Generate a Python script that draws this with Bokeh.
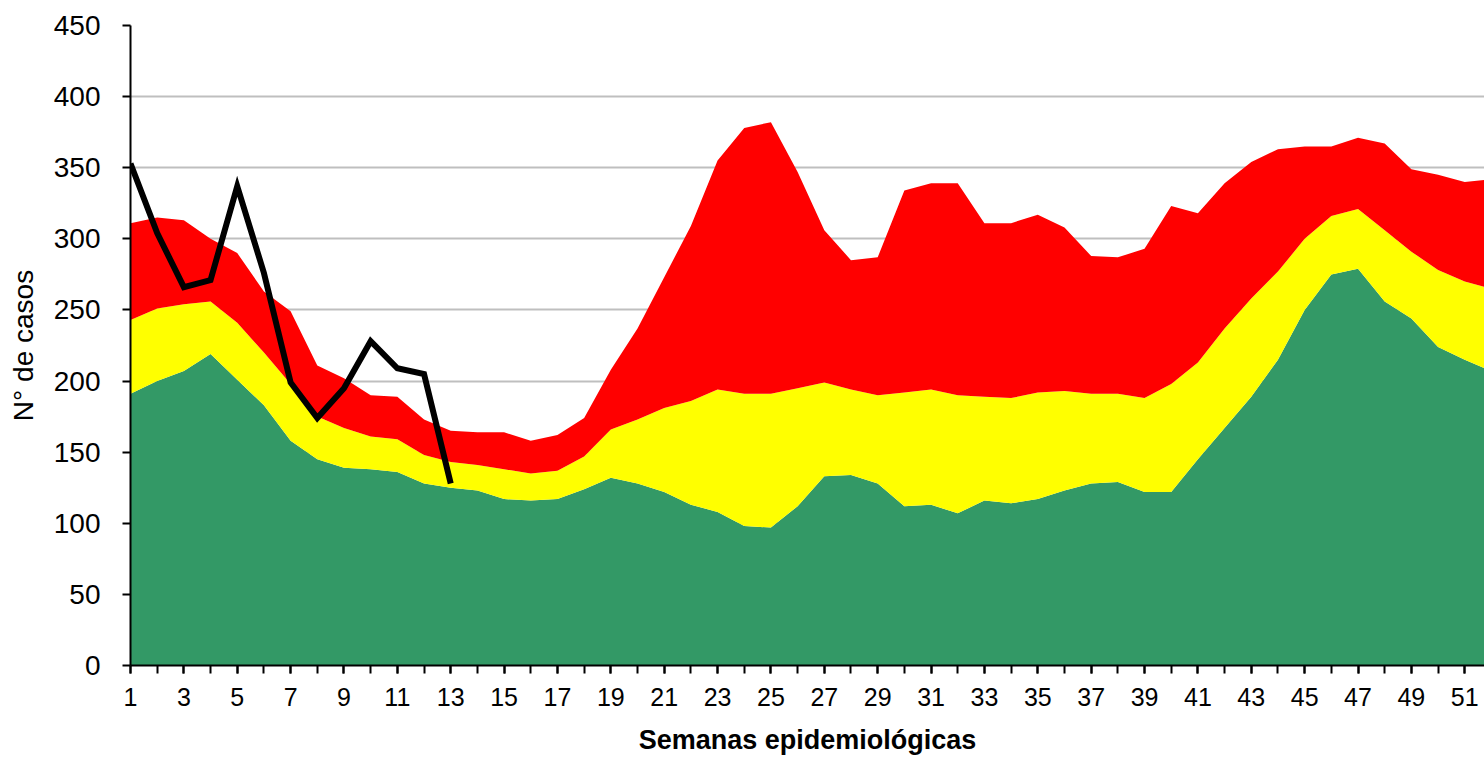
from bokeh.plotting import figure
from bokeh.models import Range1d, FixedTicker
from bokeh.embed import file_html
from bokeh.resources import INLINE

semanas = list(range(1, 53))

# Upper limit of each zone of the endemic channel
zona_exito = [191, 200, 207, 219, 201, 183, 158, 145, 139, 138, 136, 128, 125,
              123, 117, 116, 117, 124, 132, 128, 122, 113, 108, 98, 97, 112,
              133, 134, 128, 112, 113, 107, 116, 114, 117, 123, 128, 129, 122,
              122, 145, 167, 189, 215, 250, 275, 279, 256, 244, 224, 215, 207]
zona_seguridad = [243, 251, 254, 256, 241, 220, 198, 175, 167, 161, 159, 148, 143,
                  141, 138, 135, 137, 147, 166, 173, 181, 186, 194, 191, 191, 195,
                  199, 194, 190, 192, 194, 190, 189, 188, 192, 193, 191, 191, 188,
                  198, 213, 237, 258, 277, 300, 316, 321, 306, 291, 278, 270, 265]
zona_alerta = [311, 315, 313, 300, 290, 263, 249, 211, 202, 190, 189, 173, 165,
               164, 164, 158, 162, 174, 208, 237, 273, 309, 355, 378, 382, 347,
               306, 285, 287, 334, 339, 339, 311, 311, 317, 308, 288, 287, 293,
               323, 318, 339, 354, 363, 365, 365, 371, 367, 349, 345, 340, 342]

semanas_actual = list(range(1, 14))
casos_actual = [353, 304, 266, 271, 337, 276, 199, 174, 195, 228, 209, 205, 128]

y_ticks = [0, 50, 100, 150, 200, 250, 300, 350, 400, 450]
x_ticks = list(range(1, 52, 2))

FONT = "Liberation Sans"

p = figure(width=1484, height=757, output_backend="svg", toolbar_location=None,
           x_range=Range1d(1, 51.74), y_range=Range1d(0, 450),
           min_border_left=130, min_border_right=0, min_border_top=25,
           min_border_bottom=92)
p.outline_line_color = None
p.background_fill_color = "white"

zeros = [0] * len(semanas)
p.varea(x=semanas, y1=zeros, y2=zona_exito, fill_color="#339966")
p.varea(x=semanas, y1=zona_exito, y2=zona_seguridad, fill_color="#FFFF00")
p.varea(x=semanas, y1=zona_seguridad, y2=zona_alerta, fill_color="#FF0000")
p.line(semanas_actual, casos_actual, line_color="black", line_width=6,
       line_join="miter")

# grid
p.xgrid.visible = False
p.ygrid.ticker = FixedTicker(ticks=y_ticks)
p.ygrid.grid_line_color = "#BFBFBF"
p.ygrid.grid_line_width = 2

# y axis
p.yaxis.ticker = FixedTicker(ticks=y_ticks)
p.yaxis.axis_line_color = "black"
p.yaxis.axis_line_width = 2
p.yaxis.major_tick_line_width = 2
p.yaxis.major_tick_out = 8
p.yaxis.major_tick_in = 0
p.yaxis.minor_tick_line_color = None
p.yaxis.major_label_text_font = FONT
p.yaxis.major_label_text_font_size = "28px"
p.yaxis.major_label_text_color = "black"
p.yaxis.major_label_standoff = 22
p.yaxis.axis_label = "N° de casos"
p.yaxis.axis_label_text_font = FONT
p.yaxis.axis_label_text_font_size = "28px"
p.yaxis.axis_label_text_font_style = "normal"
p.yaxis.axis_label_text_color = "black"
p.yaxis.axis_label_standoff = 12

# x axis
p.xaxis.ticker = FixedTicker(ticks=x_ticks, minor_ticks=semanas)
p.xaxis.axis_line_color = "black"
p.xaxis.axis_line_width = 2
p.xaxis.major_tick_line_width = 2
p.xaxis.major_tick_out = 8
p.xaxis.major_tick_in = 0
p.xaxis.minor_tick_line_color = "black"
p.xaxis.minor_tick_line_width = 2
p.xaxis.minor_tick_out = 8
p.xaxis.minor_tick_in = 0
p.xaxis.major_label_text_font = FONT
p.xaxis.major_label_text_font_size = "25px"
p.xaxis.major_label_text_color = "black"
p.xaxis.major_label_standoff = 14
p.xaxis.axis_label = "Semanas epidemiológicas"
p.xaxis.axis_label_text_font = FONT
p.xaxis.axis_label_text_font_size = "27px"
p.xaxis.axis_label_text_font_style = "bold"
p.xaxis.axis_label_text_color = "black"
p.xaxis.axis_label_standoff = 16

open("out.html", "w").write(file_html(p, INLINE))
